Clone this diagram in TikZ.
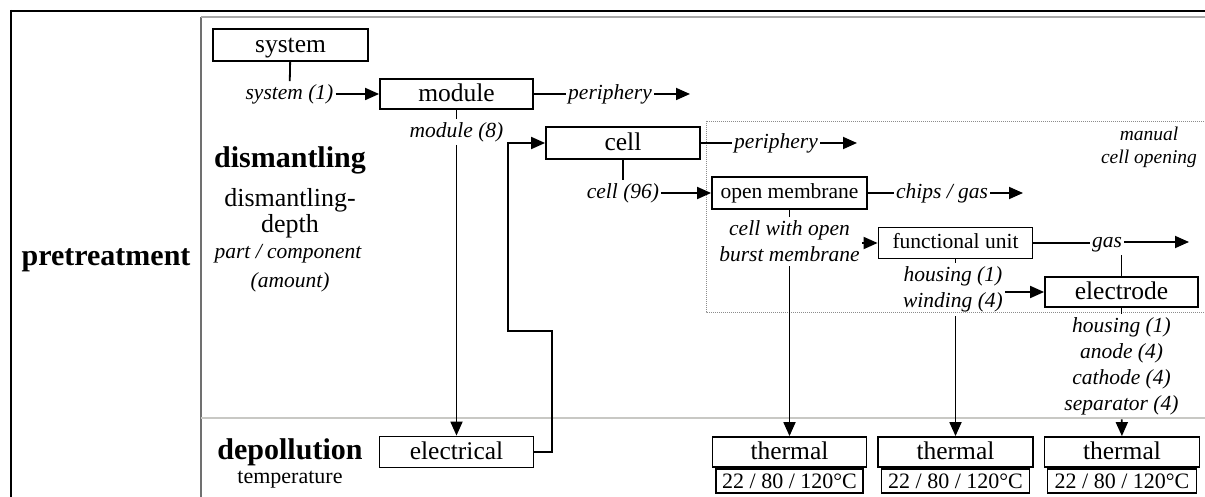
\documentclass[tikz,border=0pt]{standalone}
\usepackage{fontspec}
\setmainfont{Liberation Serif}
\usetikzlibrary{arrows.meta}
\definecolor{gA}{HTML}{707070}
\definecolor{gB}{HTML}{A8A8A8}
\definecolor{gC}{HTML}{C8C8C4}
\definecolor{gD}{HTML}{8C8C8C}
\begin{document}
\begin{tikzpicture}[x=1pt,y=-1pt,
 box/.style={draw, line width=1.8pt, inner sep=0pt, minimum height=31pt, font=\fontsize{25.5}{30}\selectfont, text height=20pt, text depth=5pt},
 sbox/.style={box, font=\fontsize{21.5}{26}\selectfont, text height=17pt, text depth=5.5pt},
 nbox/.style={draw, line width=1.8pt, inner sep=0pt, minimum height=24pt, font=\fontsize{22}{26}\selectfont, text height=17pt, text depth=1pt},
 lab/.style={font=\fontsize{21.5}{26}\selectfont\itshape, inner sep=2pt, text height=16pt, text depth=5.4pt},
 mlab/.style={font=\fontsize{21.5}{26}\selectfont\itshape, inner xsep=2pt, inner ysep=4pt, align=center},
 conn/.style={line width=1.8pt},
 arr/.style={conn, -{Triangle[length=14pt,width=12pt]}},
 head/.style={font=\fontsize{30}{36}\selectfont\bfseries, inner sep=0pt, text height=22.5pt, text depth=7.5pt},
 subhead/.style={font=\fontsize{26}{27}\selectfont, inner sep=0pt, text height=19.5pt, text depth=6.5pt},
 note/.style={font=\fontsize{21.5}{26}\selectfont\itshape, inner sep=0pt, text height=16pt, text depth=5.4pt},
]
\useasboundingbox (0,0) rectangle (1205,497);

% frame
\draw[line width=2.2pt] (11,11) -- (1206,11);
\draw[line width=1.6pt] (11,10) -- (11,498);
\draw[gA, line width=1.1pt] (201,498) -- (201,17);
\draw[gB, line width=1.1pt] (201,17) -- (1206,17);
\draw[gC, line width=1.8pt] (201,418) -- (1206,418);
\draw[gD, line width=0.8pt, dash pattern=on 1pt off 1pt] (706,121) rectangle (1214,312);

% left headings
\node[head] (pre) at (106,258) {pretreatment};
\node[head] (dis) at (290,160) {dismantling};
\node[subhead] (dd1) at (290,200) {dismantling-};
\node[subhead] (dd2) at (290,226) {depth};
\node[note] (pc1) at (288,253) {part / component};
\node[note] (pc2) at (290,282) {(amount)};
\node[head] (dep) at (290,452) {depollution};
\node[font=\fontsize{22}{26}\selectfont, inner sep=0pt, text height=16.5pt, text depth=5.5pt] (temp) at (290,478) {temperature};
\node[font=\fontsize{19.5}{23}\selectfont\itshape, align=center, inner sep=0pt] (manual) at (1149,147) {manual\\cell opening};

% boxes
\node[box, minimum width=155pt, minimum height=32pt] (system) at (290.5,45) {system};
\node[box, minimum width=153pt, minimum height=30pt] (module) at (456.5,94) {module};
\node[box, minimum width=154pt, minimum height=32pt] (cell) at (623,143) {cell};
\node[sbox, minimum width=155pt, minimum height=32pt] (openm) at (789.5,193) {open membrane};
\node[sbox, minimum width=154pt, minimum height=31pt] (func) at (955.5,243) {functional unit};
\node[box, minimum width=153pt, minimum height=30pt] (electrode) at (1121.5,292) {electrode};
\node[box, minimum width=154pt, minimum height=31pt] (electrical) at (456.5,452) {electrical};
\node[box, minimum width=154pt, minimum height=30pt] (th1) at (789.5,452) {thermal};
\node[nbox, minimum width=147pt, anchor=north] (t1) at (th1.south) {22 / 80 / 120°C};
\node[box, minimum width=155pt, minimum height=30pt] (th2) at (955.5,452) {thermal};
\node[nbox, minimum width=148pt, anchor=north] (t2) at (th2.south) {22 / 80 / 120°C};
\node[box, minimum width=155pt, minimum height=30pt] (th3) at (1122,452) {thermal};
\node[nbox, minimum width=149pt, anchor=north] (t3) at (th3.south) {22 / 80 / 120°C};

% labels
\node[lab] (sys1) at (289.5,94) {system (1)};
\node[lab] (per1) at (610,94) {periphery};
\coordinate (per1end) at (690,94);
\node[lab] (mod8) at (456.5,132) {module (8)};
\node[lab] (per2) at (776,143) {periphery};
\coordinate (per2end) at (857,143);
\node[lab] (c96) at (623,193) {cell (96)};
\node[lab] (chips) at (942,193) {chips / gas};
\coordinate (chipsend) at (1023,193);
\node[mlab] (cwo) at (789.5,241.5) {cell with open\\burst membrane};
\node[lab] (gas) at (1107,242) {gas};
\coordinate (gasend) at (1189,242);
\node[mlab] (hw) at (953,289.5) {housing (1)\\winding (4)};
\node[mlab] (elab) at (1121.5,366.5) {housing (1)\\anode (4)\\cathode (4)\\separator (4)};
\coordinate (e1) at (552,331);
\coordinate (e2) at (508,331);

% connectors
\draw[conn] (system) -- (sys1);
\draw[arr] (sys1) -- (module);
\draw[conn] (module) -- (per1);
\draw[arr] (per1) -- (per1end);
\draw[conn] (module) -- (mod8);
\draw[arr] (mod8) -- (electrical);
\draw[arr] (electrical.east) -| (e1) -- (e2) |- (cell.west);
\draw[conn] (cell) -- (per2);
\draw[arr] (per2) -- (per2end);
\draw[conn] (cell) -- (c96);
\draw[arr] (c96) -- (openm);
\draw[conn] (openm) -- (chips);
\draw[arr] (chips) -- (chipsend);
\draw[conn] (openm) -- (cwo);
\draw[arr] (cwo.east |- func.west) -- (func.west);
\draw[arr] (th1.north |- cwo.south) -- (th1.north);
\draw[conn] (func.east) -- (gas.west |- func.east);
\draw[arr] (gas) -- (gasend);
\draw[conn] (electrode.north) -- (electrode.north |- gas.south);
\draw[conn] (func.south) -- (func.south |- hw.north);
\draw[arr] (hw.east |- electrode.west) -- (electrode.west);
\draw[arr] (th2.north |- hw.south) -- (th2.north);
\draw[conn] (electrode) -- (elab);
\draw[arr] (elab) -- (th3);
\end{tikzpicture}
\end{document}
